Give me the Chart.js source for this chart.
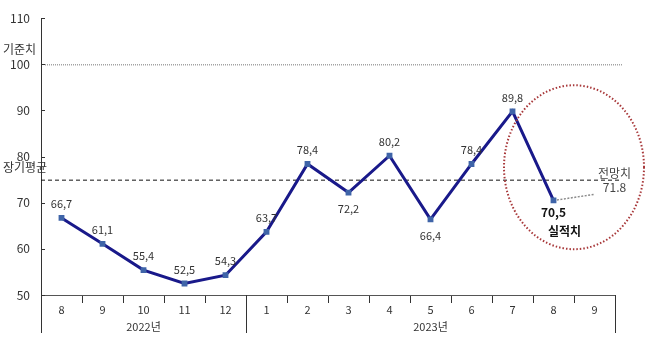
<!DOCTYPE html>
<html><head><meta charset="utf-8">
<script src="https://cdn.jsdelivr.net/npm/chart.js@4/dist/chart.umd.min.js"></script>
<style>html,body{margin:0;padding:0;background:#fff}#wrap{width:658px;height:354px}</style>
</head><body><div id="wrap"><canvas id="c" width="658" height="354"></canvas></div>
<script>
const months = ['8','9','10','11','12','1','2','3','4','5','6','7','8','9'];
const years = [{label:'2022년', from:0, to:5}, {label:'2023년', from:5, to:14}];
const actual = [66.7, 61.1, 55.4, 52.5, 54.3, 63.7, 78.4, 72.2, 80.2, 66.4, 78.4, 89.8, 70.5, null];
const actualLabels = ['66,7','61,1','55,4','52,5','54,3','63,7','78,4','72,2','80,2','66,4','78,4','89,8','70,5',''];
const labelBelow = [false,false,false,false,false,false,false,true,false,true,false,false,true,false];
const forecast = [null,null,null,null,null,null,null,null,null,null,null,null,70.5,71.8];
const baseValue = 100;
const longAvg = 75;
const yTicks = [50,60,70,80,90,100,110];

const FONT = "'Noto Sans CJK KR', 'DejaVu Sans', sans-serif";

const overlay = {
  id:'overlay',
  beforeDatasetsDraw(chart){
    const ctx = chart.ctx, y = chart.scales.y, ca = chart.chartArea;
    ctx.save();
    const yb = y.getPixelForValue(baseValue);
    ctx.strokeStyle = '#777'; ctx.lineWidth = 1; ctx.setLineDash([1,1]);
    ctx.beginPath(); ctx.moveTo(ca.left+4, yb+0.5); ctx.lineTo(ca.right+7, yb+0.5); ctx.stroke();
    const ya = y.getPixelForValue(longAvg);
    ctx.strokeStyle = '#111'; ctx.setLineDash([4,3]);
    ctx.beginPath(); ctx.moveTo(ca.left, ya+0.5); ctx.lineTo(ca.right+5, ya+0.5); ctx.stroke();
    ctx.setLineDash([]);
    ctx.strokeStyle = '#333'; ctx.lineWidth = 1;
    yTicks.forEach(v=>{ const p = Math.round(y.getPixelForValue(v))+0.5;
      ctx.beginPath(); ctx.moveTo(ca.left, p); ctx.lineTo(ca.left+4, p); ctx.stroke(); });
    ctx.fillStyle = '#333'; ctx.font = "12px "+FONT; ctx.textAlign='left'; ctx.textBaseline='middle';
    ctx.fillText('기준치', 3, yb-15);
    ctx.fillText('장기평균', 3, ya-12);
    ctx.restore();
  },
  afterDatasetsDraw(chart){
    const ctx = chart.ctx, x = chart.scales.x, y = chart.scales.y, ca = chart.chartArea;
    const meta = chart.getDatasetMeta(0);
    ctx.save();
    ctx.font = "11px "+FONT; ctx.fillStyle='#333'; ctx.textAlign='center'; ctx.textBaseline='middle';
    meta.data.forEach((pt,i)=>{
      if (actual[i]==null) return;
      if (i===12){
        ctx.font = "bold 12px "+FONT; ctx.fillStyle='#111';
        ctx.fillText(actualLabels[i], pt.x, pt.y+12);
        ctx.fillText('실적치', pt.x+11, pt.y+31);
        ctx.font = "11px "+FONT; ctx.fillStyle='#333';
        return;
      }
      ctx.fillText(actualLabels[i], pt.x, labelBelow[i] ? pt.y+16 : pt.y-14);
    });
    const fmeta = chart.getDatasetMeta(1);
    const fp = fmeta.data[13];
    ctx.fillStyle='#444'; ctx.font = "12px "+FONT;
    ctx.fillText('전망치', fp.x+20, fp.y-21);
    ctx.fillText(String(forecast[13]), fp.x+20, fp.y-7);
    const cx = (meta.data[12].x + fp.x)/2, cy = y.getPixelForValue(77.7);
    ctx.strokeStyle = '#a8383a'; ctx.lineWidth = 2; ctx.setLineDash([1.5,2]);
    ctx.beginPath(); ctx.ellipse(cx, cy, 70, 82, 0, 0, Math.PI*2); ctx.stroke();
    ctx.setLineDash([]);
    ctx.strokeStyle='#333'; ctx.lineWidth=1; ctx.fillStyle='#333'; ctx.font="11px "+FONT;
    const bottom = ca.bottom;
    const half = (x.getPixelForValue(1)-x.getPixelForValue(0))/2;
    const bounds = new Set();
    years.forEach(g=>{
      const l = x.getPixelForValue(g.from)-half, r = x.getPixelForValue(g.to-1)+half;
      bounds.add(Math.round(l)); bounds.add(Math.round(r));
      ctx.fillText(g.label, (l+r)/2, bottom+32);
    });
    bounds.forEach(b=>{ ctx.beginPath(); ctx.moveTo(b+0.5, bottom); ctx.lineTo(b+0.5, bottom+38); ctx.stroke(); });
    ctx.restore();
  }
};

new Chart(document.getElementById('c'), {
  type:'line',
  data:{ labels: months, datasets:[
    { data: actual, borderColor:'#19198a', borderWidth:3, pointStyle:'rect', pointRadius:2,
      pointBackgroundColor:'#3f64a8', pointBorderColor:'#3f64a8', tension:0, spanGaps:false },
    { data: forecast, borderColor:'#8a8a8a', borderWidth:1.5, borderDash:[2,1.5], pointRadius:0, tension:0 }
  ]},
  options:{
    responsive:false, animation:false, devicePixelRatio:1,
    layout:{ padding:{ top:16, right:43, left:0, bottom:0 } },
    plugins:{ legend:{display:false}, tooltip:{enabled:false} },
    scales:{
      x:{ offset:true,
        grid:{ offset:true, drawOnChartArea:false, drawTicks:true, tickLength:8, color:'#333' },
        border:{ color:'#555', width:1 },
        ticks:{ color:'#333', font:{ size:11, family:FONT }, padding:0, maxRotation:0, autoSkip:false },
        afterFit(s){ s.height = 59; } },
      y:{ min:50, max:110,
        afterBuildTicks(s){ s.ticks = yTicks.map(v=>({value:v})); },
        grid:{ display:false, drawTicks:false },
        border:{ color:'#333', width:1 },
        ticks:{ color:'#333', font:{ size:12, family:FONT }, padding:11 },
        afterFit(s){ s.width = 41; } }
    }
  },
  plugins:[overlay]
});
</script></body></html>
